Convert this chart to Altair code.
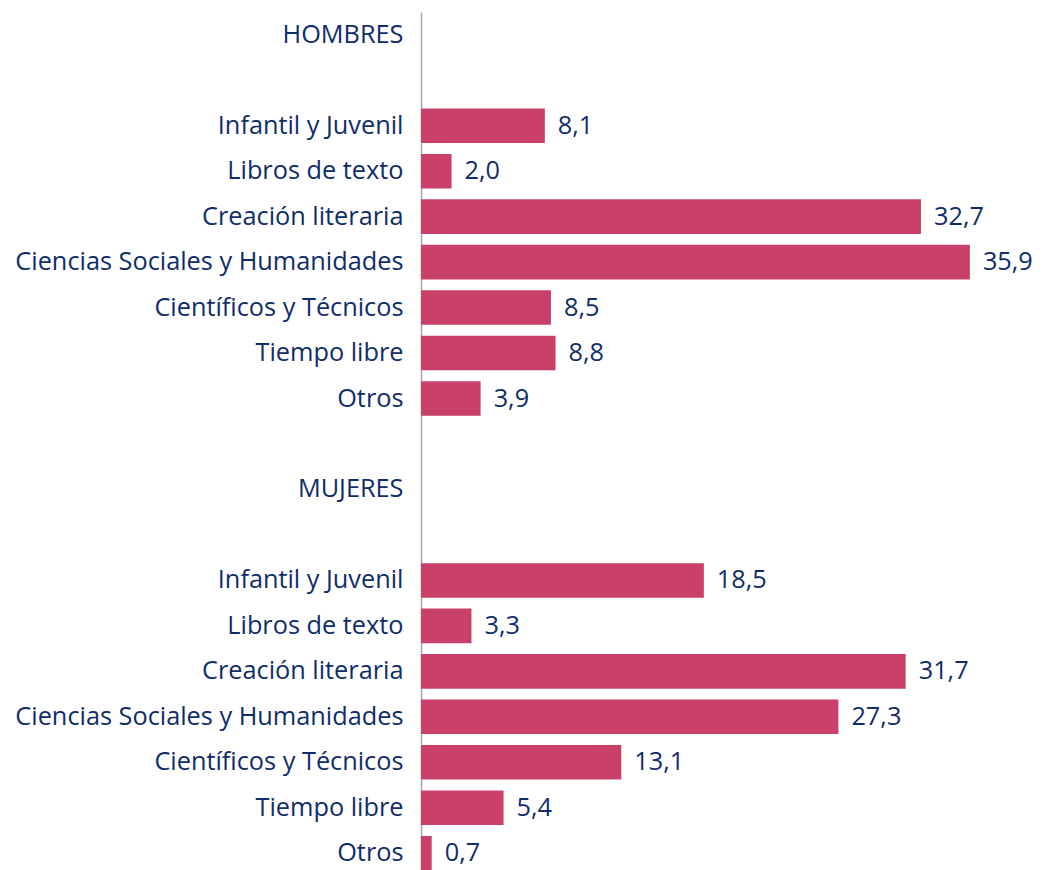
import altair as alt
import pandas as pd

categories = ["Infantil y Juvenil", "Libros de texto", "Creación literaria",
              "Ciencias Sociales y Humanidades", "Científicos y Técnicos",
              "Tiempo libre", "Otros"]
hombres = [8.1, 2.0, 32.7, 35.9, 8.5, 8.8, 3.9]
mujeres = [18.5, 3.3, 31.7, 27.3, 13.1, 5.4, 0.7]
groups = ["HOMBRES", "MUJERES"]

keys = []
rows = []
idx = 0
for g, vals in zip(groups, [hombres, mujeres]):
    if keys:
        keys.append(f"{idx:02d}|"); idx += 1
    keys.append(f"{idx:02d}|{g}"); idx += 1
    keys.append(f"{idx:02d}|"); idx += 1
    for c, v in zip(categories, vals):
        k = f"{idx:02d}|{c}"
        keys.append(k); idx += 1
        rows.append({"key": k, "value": v})

df = pd.DataFrame(rows)

TEXT = "#0F2D69"
FONT = "Open Sans"
FS = 25.3

y = alt.Y("key:N", sort=keys,
          scale=alt.Scale(domain=keys, paddingInner=0.24, paddingOuter=0.12),
          axis=alt.Axis(title=None, labelExpr="split(datum.value, '|')[1]",
                        ticks=False, domainColor="#A6A6A6", domainWidth=1.5,
                        labelFont=FONT, labelFontSize=FS, labelColor=TEXT,
                        labelPadding=18, labelLimit=0))
x = alt.X("value:Q", scale=alt.Scale(domain=[0, 38], nice=False),
          axis=None)

base = alt.Chart(df).encode(x=x, y=y)
bars = base.mark_bar(color="#C94068")
labels = base.transform_calculate(
    lbl="replace(format(datum.value, '.1f'), '.', ',')"
).mark_text(align="left", dx=13, font=FONT, fontSize=FS, color=TEXT).encode(text="lbl:N")

chart = (bars + labels).properties(
    width=581, height=864,
    autosize=alt.AutoSizeParams(type="none"),
    padding={"left": 413, "top": 4, "right": 34, "bottom": 0},
).configure_view(stroke=None).configure_axis(grid=False)

chart.save("out.html", embed_options={"renderer": "svg", "actions": False})
